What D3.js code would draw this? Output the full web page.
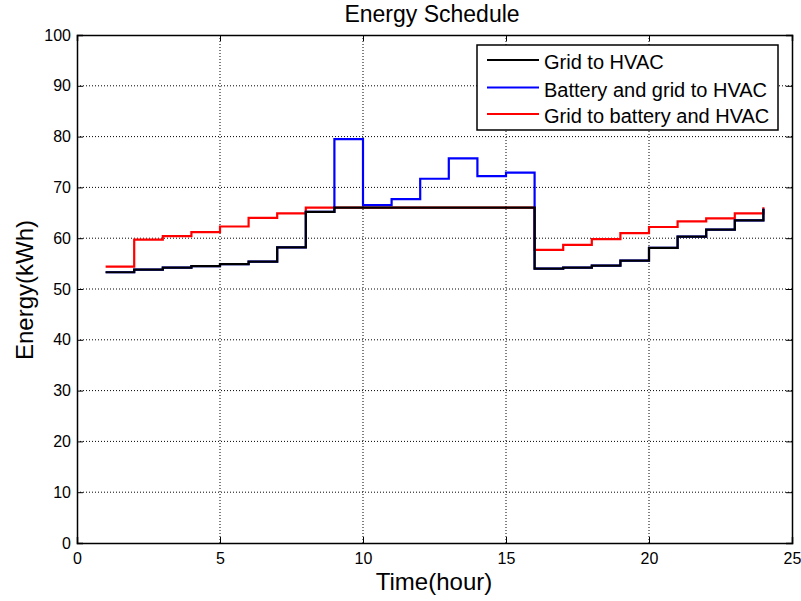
<!DOCTYPE html>
<html><head><meta charset="utf-8">
<script src="https://cdn.jsdelivr.net/npm/d3@7"></script>
<style>body{margin:0;background:#fff}svg{display:block}text{font-family:"Liberation Sans",Arial,sans-serif}</style>
</head><body>
<svg id="c" width="801" height="601"></svg>
<script>
const hours = d3.range(1, 25);
const gridToHVAC = [53.3,53.8,54.2,54.5,54.9,55.4,58.2,65.2,66,66,66,66,66,66,66,54.0,54.2,54.6,55.6,58.1,60.3,61.7,63.5,65.8];
const batteryGridToHVAC = [53.3,53.8,54.2,54.5,54.9,55.4,58.2,65.2,79.5,66.5,67.7,71.7,75.7,72.2,72.9,54.0,54.2,54.6,55.6,58.1,60.3,61.7,63.5,65.8];
const gridToBatteryHVAC = [54.4,59.7,60.4,61.2,62.3,64.0,64.9,66.0,66,66,66,66,66,66,66,57.7,58.7,59.8,61.0,62.2,63.3,63.9,64.9,66.1];
const seriesNames = ["Grid to HVAC","Battery and grid to HVAC","Grid to battery and HVAC"];
const seriesColors = ["#000000","#0000ff","#ff0000"];
const xTicks = [0,5,10,15,20,25];
const yTicks = [0,10,20,30,40,50,60,70,80,90,100];

const svg = d3.select("#c");
const L=77, R=792, T=35, B=543;
const x = d3.scaleLinear().domain([0,25]).range([L,R]);
const y = d3.scaleLinear().domain([0,100]).range([B,T]);

// grid
const g = svg.append("g");
g.selectAll(".gx").data(xTicks.slice(1,-1)).enter().append("line")
  .attr("x1",d=>x(d)).attr("x2",d=>x(d)).attr("y1",T).attr("y2",B)
  .attr("stroke","#000").attr("stroke-width",1).attr("stroke-dasharray","1,2");
g.selectAll(".gy").data(yTicks.slice(1,-1)).enter().append("line")
  .attr("y1",d=>y(d)).attr("y2",d=>y(d)).attr("x1",L).attr("x2",R)
  .attr("stroke","#000").attr("stroke-width",1).attr("stroke-dasharray","1,2");

// axes
const ax = svg.append("g").attr("transform",`translate(0,${B})`)
  .call(d3.axisBottom(x).tickValues(xTicks).tickSize(-6).tickPadding(10));
const axTop = svg.append("g").attr("transform",`translate(0,${T})`)
  .call(d3.axisTop(x).tickValues(xTicks).tickSize(-6).tickFormat(""));
const ay = svg.append("g").attr("transform",`translate(${L},0)`)
  .call(d3.axisLeft(y).tickValues(yTicks).tickSize(-6).tickPadding(6));
const ayR = svg.append("g").attr("transform",`translate(${R},0)`)
  .call(d3.axisRight(y).tickValues(yTicks).tickSize(-6).tickFormat(""));
[ax,axTop,ay,ayR].forEach(a=>{
  a.select(".domain").attr("stroke","#000").attr("stroke-width",1.5);
  a.selectAll(".tick line").attr("stroke","#000");
  a.selectAll("text").attr("font-size",16).attr("fill","#000").style("font-family","Liberation Sans, Arial, sans-serif");
});

// series
const line = d3.line().x(d=>x(d[0])).y(d=>y(d[1])).curve(d3.curveStepAfter);
const data = [gridToHVAC, batteryGridToHVAC, gridToBatteryHVAC];
[2,1,0].forEach(i=>{
  svg.append("path").datum(hours.map((h,j)=>[h,data[i][j]]))
    .attr("d",line).attr("fill","none").attr("stroke",seriesColors[i]).attr("stroke-width",2.2);
});

// title and labels
svg.append("text").attr("x",432).attr("y",22).attr("text-anchor","middle").attr("font-size",23).text("Energy Schedule");
svg.append("text").attr("x",434).attr("y",590).attr("text-anchor","middle").attr("font-size",24).text("Time(hour)");
svg.append("text").attr("transform","translate(33,290) rotate(-90)").attr("text-anchor","middle").attr("font-size",24).text("Energy(kWh)");

// legend
const lg = svg.append("g");
lg.append("rect").attr("x",477).attr("y",45).attr("width",301).attr("height",85)
  .attr("fill","#fff").attr("stroke","#000").attr("stroke-width",1.5);
const rows=[60,87.5,114];
seriesNames.forEach((n,i)=>{
  lg.append("line").attr("x1",487).attr("x2",539).attr("y1",rows[i]).attr("y2",rows[i])
    .attr("stroke",seriesColors[i]).attr("stroke-width",2.2);
  lg.append("text").attr("x",544).attr("y",rows[i]+9).attr("font-size",20).text(n);
});
</script>
</body></html>
